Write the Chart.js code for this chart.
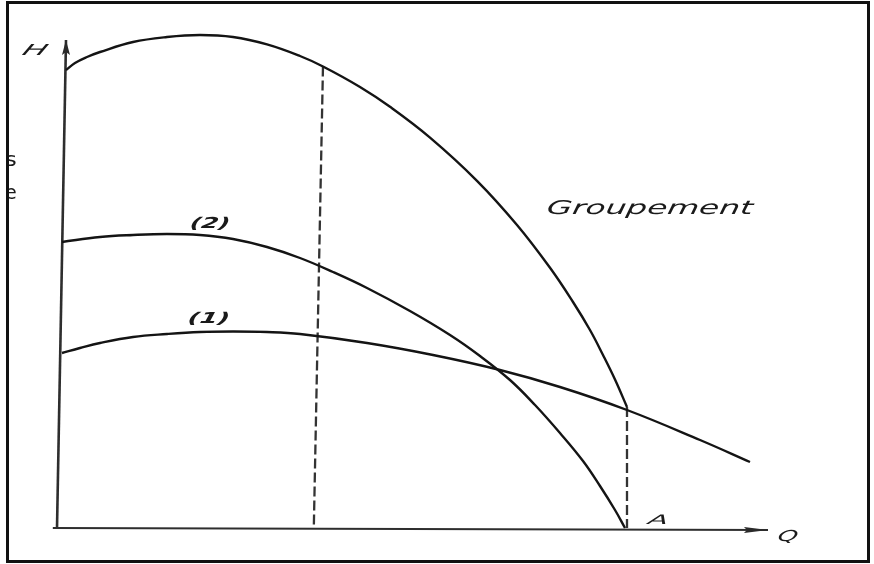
<!DOCTYPE html>
<html>
<head>
<meta charset="utf-8">
<script src="https://cdn.jsdelivr.net/npm/chart.js@4.4.1/dist/chart.umd.min.js"></script>
<style>
  html, body { margin: 0; padding: 0; background: #fff; }
  #wrap { width: 874px; height: 564px; position: relative; }
</style>
</head>
<body>
<div id="wrap"><canvas id="c"></canvas></div>
<script>
// Head H versus flow Q: pump (1), pump (2) and their series grouping ("Groupement").
const groupQ = [1.0, 2.5, 4.5, 6.67, 12.17, 17.83, 23.33, 28.83, 34.5, 40, 43.83, 50, 55, 61.67, 69.5, 76.17, 81.67, 85.5, 88.33, 90.5, 92.5, 94.5];
const groupH = [91.6, 93.0, 94.2, 95.2, 97.2, 98.2, 98.6, 98.2, 96.72, 94.4, 92.3, 88.2, 84.24, 78.08, 69.44, 60.6, 52.04, 45.2, 39.6, 34.6, 29.7, 24.2];

const pump2Q = [0.33, 6.67, 12.17, 17.83, 23.33, 28.83, 34.5, 40, 45.5, 51.17, 58.33, 65, 70, 75, 79.17, 83.33, 87.17, 90, 92.5, 94.17];
const pump2H = [57.2, 58.2, 58.6, 58.8, 58.6, 57.8, 56.2, 54.0, 51.2, 48.0, 43.4, 38.6, 34.4, 29.6, 24.6, 19.0, 13.4, 8.4, 3.6, 0];

const pump1Q = [0.33, 3.33, 6.67, 12.17, 17.83, 23.33, 28.83, 34.5, 40, 51.17, 62.17, 73.33, 83.33, 94.5, 106.67, 115];
const pump1H = [35.0, 36.0, 37.0, 38.2, 38.8, 39.2, 39.3, 39.2, 38.8, 37.0, 34.6, 31.6, 28.2, 23.6, 17.6, 13.2];

// Dashed verticals: flow at which the grouping reaches its upper point, and point A
const dash1Q = [43.83, 42.3];
const dash1H = [92.3, 0];
const dashAQ = [94.5, 94.5];
const dashAH = [24.2, 0];

// Axis lines (the vertical axis leans slightly, as drawn by hand)
const axisYQ = [-0.5, 1.0];
const axisYH = [0, 97.6];
const axisXQ = [-1.2, 118];
const axisXH = [0, -0.4];

// Text labels
const labelText = ['Groupement', '(2)', '(1)', 'H', 'A', 'Q', 's', 'e'];
const labelQ    = [98.3, 25.0, 24.8, -4.2, 99.7, 121.3, -8.2, -8.2];
const labelH    = [63.8, 60.8, 41.8, 95.4, 1.4, -1.8, 73.4, 66.8];

const toPts = (qs, hs) => qs.map((q, i) => ({ x: q, y: hs[i] }));

// Arrow head whose tip sits at the image centre, pointing up
function makeDart(len, halfW) {
  const c = document.createElement('canvas');
  c.width = halfW * 2 + 2;
  c.height = len * 2;
  const g = c.getContext('2d');
  const cx = c.width / 2;
  g.fillStyle = '#2a2a2a';
  g.beginPath();
  g.moveTo(cx, len);
  g.lineTo(cx + halfW, 2 * len);
  g.lineTo(cx, 2 * len - 3);
  g.lineTo(cx - halfW, 2 * len);
  g.closePath();
  g.fill();
  return c;
}
const dartY = makeDart(15, 4);
const dartX = makeDart(24, 3);

const curveStyle = {
  showLine: true, borderColor: '#141414', borderWidth: 2.4, pointRadius: 0,
  tension: 0.4, fill: false, clip: false
};
const dashStyle = {
  showLine: true, borderColor: '#333', borderWidth: 2.3, borderDash: [10, 4],
  pointRadius: 0, fill: false, clip: false
};

const labelsPlugin = {
  id: 'drawnLabels',
  afterDatasetsDraw(chart) {
    const ctx = chart.ctx;
    const xs = chart.scales.x, ys = chart.scales.y;
    const specs = {
      'Groupement': { font: 'italic 19px "DejaVu Sans"', w: 206, skew: 0.15 },
      '(2)': { font: 'italic bold 15px "DejaVu Sans"', w: 40, skew: 0.2 },
      '(1)': { font: 'italic bold 15px "DejaVu Sans"', w: 42, skew: 0.2 },
      'H': { font: 'italic 15px "DejaVu Sans"', w: 24, skew: 0.45 },
      'A': { font: 'italic 13px "DejaVu Sans"', w: 20, skew: 0.25 },
      'Q': { font: 'italic 15px "DejaVu Sans"', w: 20, skew: 0.25 },
      's': { font: '20px "DejaVu Sans"', w: 12, skew: 0 },
      'e': { font: '20px "DejaVu Sans"', w: 12, skew: 0 }
    };
    ctx.save();
    ctx.fillStyle = '#1a1a1a';
    ctx.textAlign = 'center';
    ctx.textBaseline = 'middle';
    labelText.forEach((t, i) => {
      const s = specs[t];
      const px = xs.getPixelForValue(labelQ[i]);
      const py = ys.getPixelForValue(labelH[i]);
      ctx.save();
      ctx.font = s.font;
      const mw = ctx.measureText(t).width;
      const sx = s.w / mw;
      ctx.translate(px, py);
      ctx.transform(sx, 0, -s.skew, 1, 0, 0);
      ctx.fillText(t, 0, 0);
      ctx.restore();
    });
    ctx.restore();
  },
  afterDraw(chart) {
    // frame around the drawing; it also hides the left part of the stray letters
    const ctx = chart.ctx;
    ctx.save();
    ctx.fillStyle = '#fff';
    ctx.fillRect(0, 0, 6, 564);
    ctx.strokeStyle = '#111';
    ctx.lineWidth = 3;
    ctx.strokeRect(7.5, 2.5, 861, 559);
    ctx.restore();
  }
};

new Chart(document.getElementById('c'), {
  type: 'scatter',
  data: {
    datasets: [
      { ...curveStyle, label: 'Groupement', data: toPts(groupQ, groupH) },
      { ...curveStyle, label: '(2)', data: toPts(pump2Q, pump2H) },
      { ...curveStyle, label: '(1)', data: toPts(pump1Q, pump1H) },
      { ...dashStyle, label: 'Q op', data: toPts(dash1Q, dash1H) },
      { ...dashStyle, label: 'A', data: toPts(dashAQ, dashAH) },
      {
        label: 'H axis', data: toPts(axisYQ, axisYH), showLine: true,
        borderColor: '#2e2e2e', borderWidth: 2.6, clip: false,
        pointRadius: [0, 8], pointStyle: ['circle', dartY], rotation: [0, 0]
      },
      {
        label: 'Q axis', data: toPts(axisXQ, axisXH), showLine: true,
        borderColor: '#2e2e2e', borderWidth: 2.2, clip: false,
        pointRadius: [0, 8], pointStyle: ['circle', dartX], rotation: [0, 90]
      }
    ]
  },
  options: {
    responsive: true,
    maintainAspectRatio: false,
    animation: false,
    events: [],
    layout: { padding: { left: 48, top: 28, right: 94, bottom: 26 } },
    plugins: { legend: { display: false }, tooltip: { enabled: false } },
    scales: {
      x: { type: 'linear', min: -2, max: 120, display: false },
      y: { type: 'linear', min: -2, max: 100, display: false }
    }
  },
  plugins: [labelsPlugin]
});
</script>
</body>
</html>
